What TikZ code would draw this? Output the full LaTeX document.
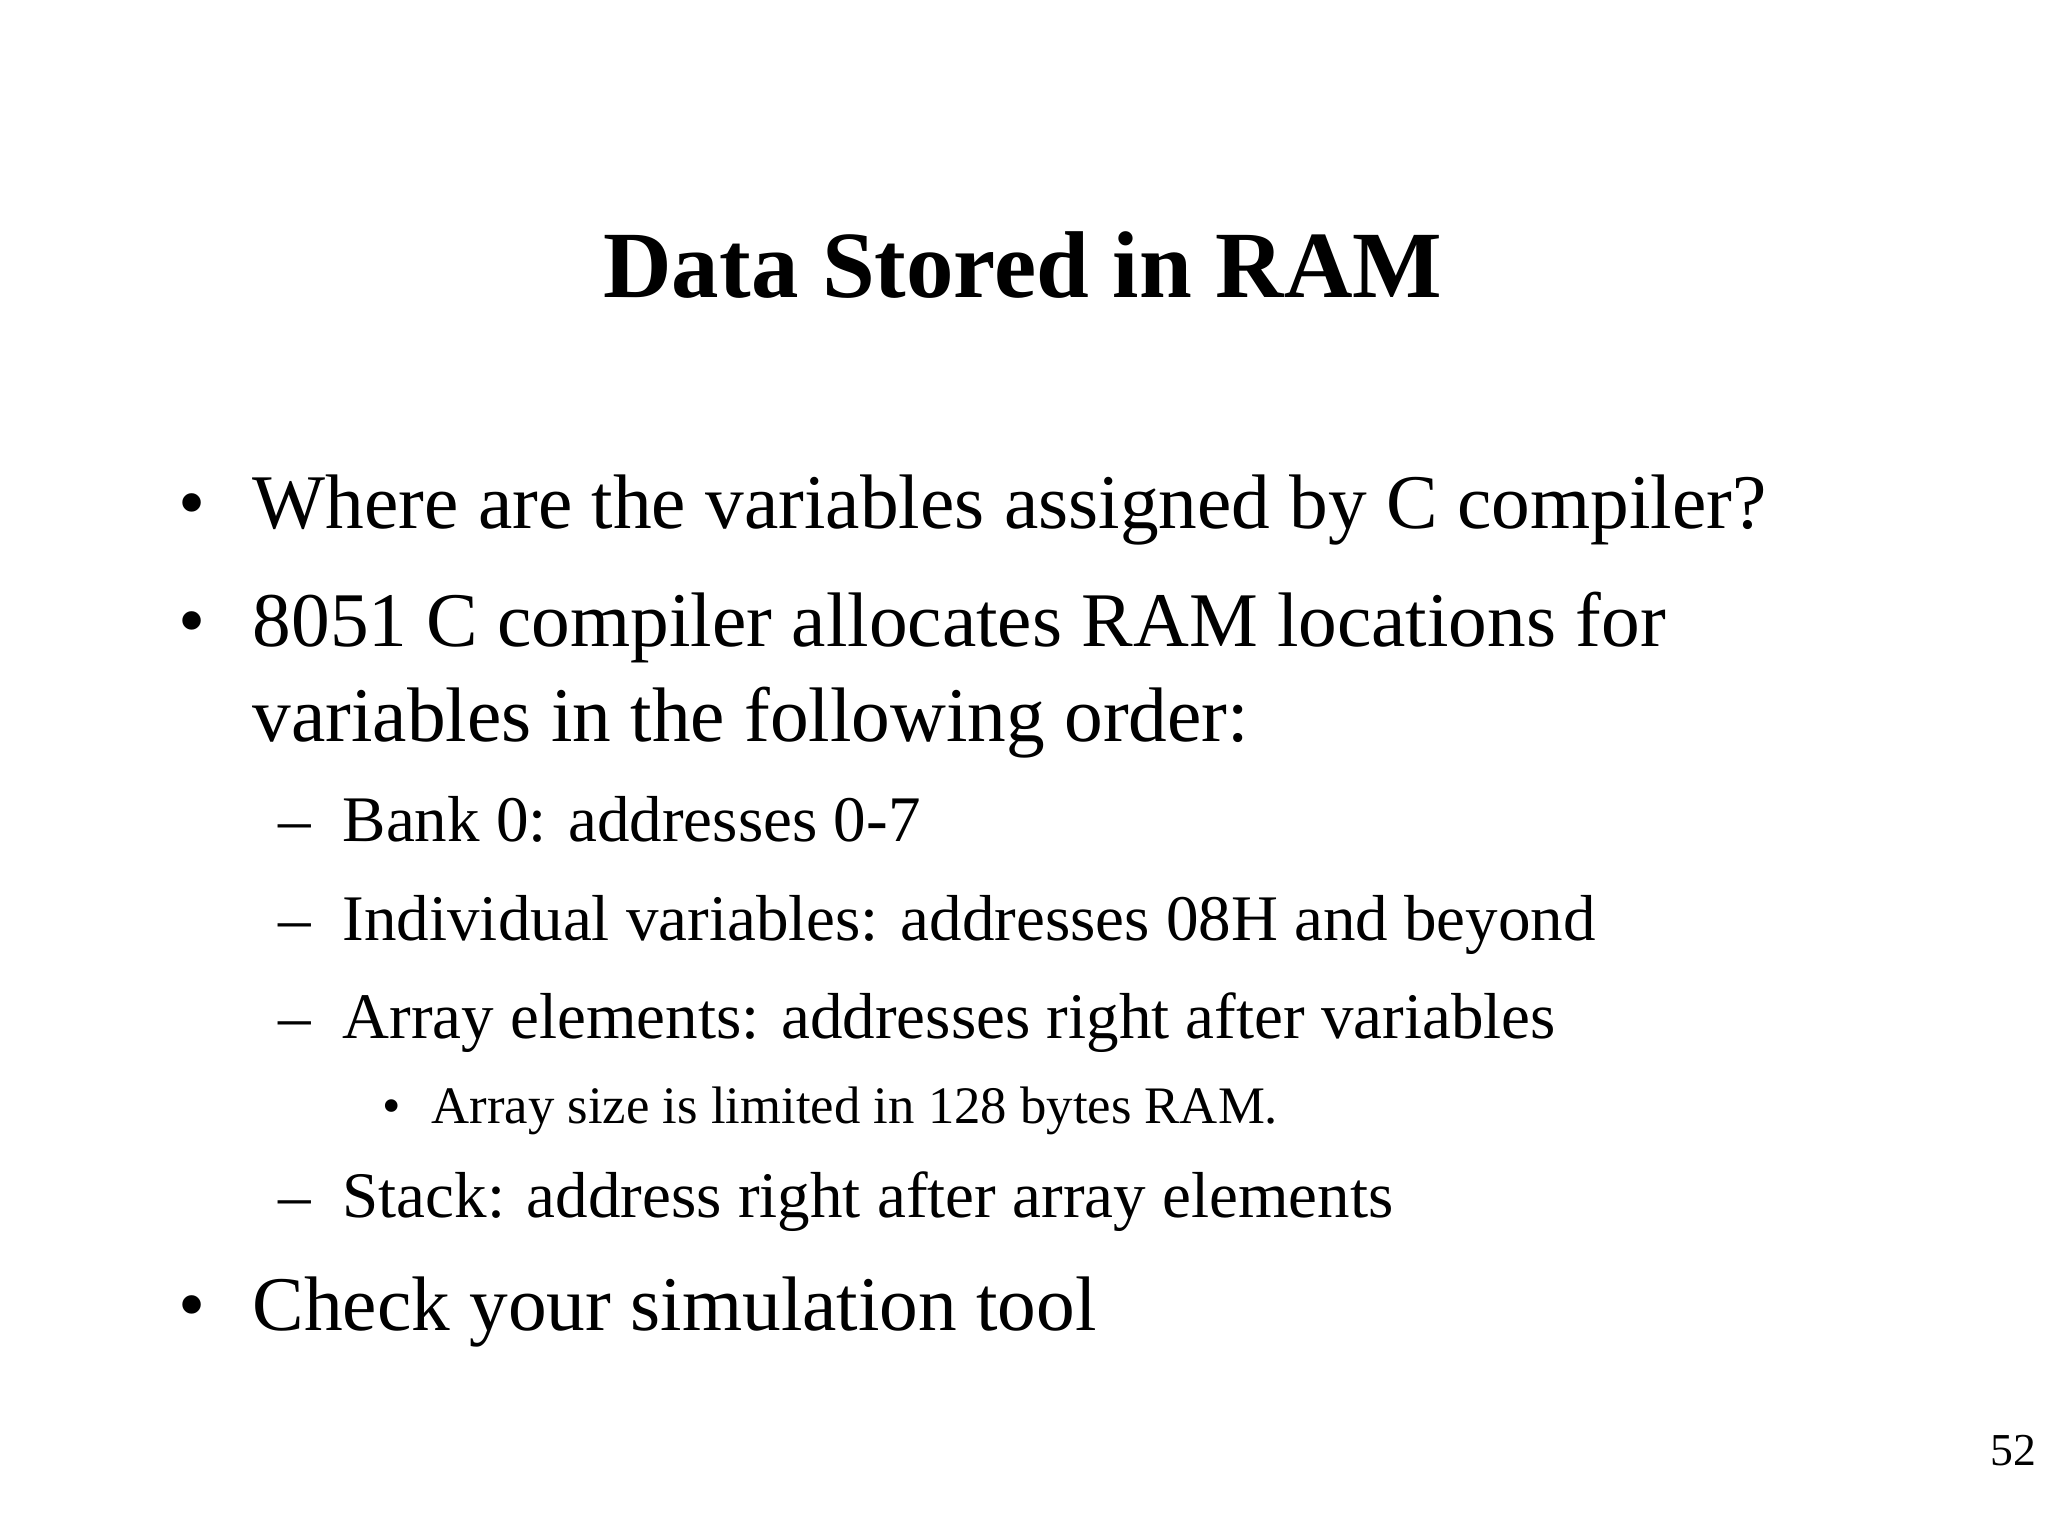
\documentclass[tikz,border=0pt]{standalone}
\usepackage{fontspec}
\setmainfont{Liberation Serif}
\usepackage{tikz}
\tikzset{
  txt/.style={anchor=base west,inner sep=0pt},
  lvlone/.style={txt,font=\fontsize{22}{26}\selectfont},
  lvltwo/.style={txt,font=\fontsize{18.5}{22}\selectfont},
  lvlthree/.style={txt,font=\fontsize{15}{18}\selectfont}
}
\begin{document}
\begin{tikzpicture}
\useasboundingbox (0,0) rectangle (20.48,-15.36);
\node[anchor=base,inner sep=0pt,font=\fontsize{27}{32}\selectfont\bfseries] (title) at (10.23,-2.98) {Data Stored in RAM};
% main bullets
\node[lvlone] (dotA) at (1.78,-5.29) {•};
\node[lvlone] (where) at (2.52,-5.29) {Where are the variables assigned by C compiler?};
\node[lvlone] (dotB) at (1.78,-6.46) {•};
\node[lvlone] (alloc) at (2.52,-6.46) {8051 C compiler allocates RAM locations for};
\node[lvlone] (alloc2) at (2.52,-7.42) {variables in the following order:};
% order of locations
\node[lvltwo] (dashA) at (2.78,-8.42) {–};
\node[lvltwo] (bank) at (3.42,-8.42) {Bank 0: addresses 0-7};
\node[lvltwo] (dashB) at (2.78,-9.40) {–};
\node[lvltwo] (indiv) at (3.42,-9.40) {Individual variables: addresses 08H and beyond};
\node[lvltwo] (dashC) at (2.78,-10.38) {–};
\node[lvltwo] (array) at (3.42,-10.38) {Array elements: addresses right after variables};
\node[lvlthree] (dotC) at (3.82,-11.23) {•};
\node[lvlthree] (limit) at (4.31,-11.23) {Array size is limited in 128 bytes RAM.};
\node[lvltwo] (dashD) at (2.78,-12.17) {–};
\node[lvltwo] (stack) at (3.42,-12.17) {Stack: address right after array elements};
\node[lvlone] (dotD) at (1.78,-13.30) {•};
\node[lvlone] (check) at (2.52,-13.30) {Check your simulation tool};
\node[anchor=base east,inner sep=0pt,font=\fontsize{13}{15}\selectfont] (page) at (20.37,-14.65) {52};
\end{tikzpicture}
\end{document}
